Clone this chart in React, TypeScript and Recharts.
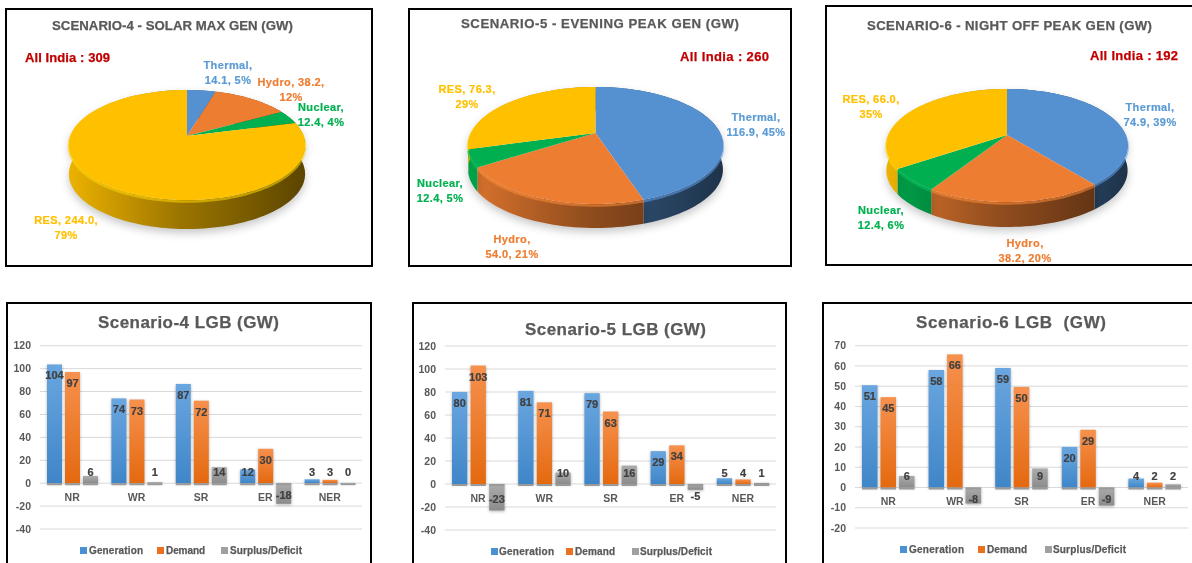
import React from "react";
import {
  Bar,
  BarChart,
  CartesianGrid,
  Legend,
  LabelList,
  Pie,
  PieChart,
  XAxis,
  YAxis,
} from "recharts";

const FONT = '"Liberation Sans", Arial, sans-serif';

const sources = ["Thermal", "Hydro", "Nuclear", "RES"];
const sourceColors = ["#5590D0", "#ED7D31", "#00B050", "#FFC000"];
const labelColors = ["#5B9BD5", "#ED7D31", "#00B050", "#FFC000"];

const scenario4Gen = [14.1, 38.2, 12.4, 244.0];
const scenario4Pct = [5, 12, 4, 79];
const scenario5Gen = [116.9, 54.0, 12.4, 76.3];
const scenario5Pct = [45, 21, 5, 29];
const scenario6Gen = [74.9, 38.2, 12.4, 66.0];
const scenario6Pct = [39, 20, 6, 35];

const regions = ["NR", "WR", "SR", "ER", "NER"];

const s4Generation = [103.6, 74, 86.6, 12, 3.4];
const s4Demand = [97, 73, 72, 30, 2.9];
const s4Surplus = [6.3, 0.9, 14, -18, 0.3];

const s5Generation = [80, 81, 79, 28.6, 5];
const s5Demand = [103, 71, 63, 33.6, 4];
const s5Surplus = [-23, 10, 16, -5, 1];

const s6Generation = [50.5, 58, 59, 20, 4.4];
const s6Demand = [44.6, 65.7, 49.6, 28.5, 2.4];
const s6Surplus = [5.7, -7.9, 9.4, -8.9, 1.6];

const ticks120 = [-40, -20, 0, 20, 40, 60, 80, 100, 120];
const ticks70 = [-20, -10, 0, 10, 20, 30, 40, 50, 60, 70];

// page coordinates
const pieLayouts = [
  {
    id: "s4",
    box: { x: 5, y: 8, w: 368, h: 259 },
    title: "SCENARIO-4 - SOLAR MAX GEN (GW)",
    titleAt: [52, 25, 241],
    total: "All India : 309",
    totalAt: [25, 57, 85],
    cx: 187, cy: 136, rx: 116.5, up: 46, down: 64, depth: 29,
    gen: scenario4Gen, pct: scenario4Pct,
    labels: [[228, 65, 0], [291, 82, 1], [321, 107, 0], [66, 220, 1]],
  },
  {
    id: "s5",
    box: { x: 408, y: 8, w: 384, h: 259 },
    title: "SCENARIO-5 - EVENING PEAK GEN (GW)",
    titleAt: [461, 23, 278],
    total: "All India : 260",
    totalAt: [680, 56, 89],
    cx: 595.5, cy: 133, rx: 124.5, up: 46, down: 71, depth: 24,
    gen: scenario5Gen, pct: scenario5Pct,
    labels: [[756, 117, 0], [512, 239, 0], [440, 183, 0], [467, 89, 1]],
  },
  {
    id: "s6",
    box: { x: 825, y: 5, w: 400, h: 261 },
    title: "SCENARIO-6 - NIGHT OFF PEAK GEN (GW)",
    titleAt: [867, 25, 285],
    total: "All India : 192",
    totalAt: [1090, 55, 88],
    cx: 1007, cy: 135, rx: 118.5, up: 46, down: 67, depth: 25,
    gen: scenario6Gen, pct: scenario6Pct,
    labels: [[1150, 107, 0], [1025, 243, 0], [881, 210, 0], [871, 99, 1]],
  },
];

const barLayouts = [
  {
    id: "b4",
    box: { x: 6, y: 302, w: 366, h: 290 },
    title: "Scenario-4 LGB (GW)",
    titleAt: [98, 322, 181],
    plot: { left: 40, right: 362, top: 345.7, bottom: 529 },
    barSize: 15, barGap: 3,
    domain: [-40, 120], ticks: ticks120,
    generation: s4Generation, demand: s4Demand, surplus: s4Surplus,
    legendY: 550, legendX: [[80, 89, 54], [157, 166, 39], [221, 230, 72]],
  },
  {
    id: "b5",
    box: { x: 412, y: 302, w: 375, h: 290 },
    title: "Scenario-5 LGB (GW)",
    titleAt: [525, 329, 181],
    plot: { left: 445, right: 776, top: 346, bottom: 530 },
    barSize: 15.3, barGap: 3.3,
    domain: [-40, 120], ticks: ticks120,
    generation: s5Generation, demand: s5Demand, surplus: s5Surplus,
    legendY: 551, legendX: [[491, 499, 55], [566, 575, 40], [632, 640, 72]],
  },
  {
    id: "b6",
    box: { x: 822, y: 302, w: 400, h: 290 },
    title: "Scenario-6 LGB  (GW)",
    titleAt: [916, 322, 190],
    plot: { left: 855, right: 1188, top: 345.7, bottom: 528 },
    barSize: 15.5, barGap: 3,
    domain: [-20, 70], ticks: ticks70,
    generation: s6Generation, demand: s6Demand, surplus: s6Surplus,
    legendY: 549, legendX: [[900, 909, 55], [978, 987, 40], [1045, 1053, 73]],
  },
];

const shade = (hex: string, k: number) => {
  const n = parseInt(hex.slice(1), 16);
  const c = [(n >> 16) & 255, (n >> 8) & 255, n & 255].map((v) =>
    Math.min(255, Math.round(v * k))
  );
  return `rgb(${c[0]},${c[1]},${c[2]})`;
};

// Circle to tilted disc, with the far edge squeezed so the apex sits above the ellipse centre
const makeProjector = (cx: number, cy: number, rx: number, up: number, down: number) => {
  const ry = (2 * up * down) / (up + down);
  const p = ry / up - 1;
  return (deg: number): [number, number] => {
    const a = (deg * Math.PI) / 180;
    const w = 1 + p * Math.sin(a);
    return [cx + (rx * Math.cos(a)) / w, cy - (ry * Math.sin(a)) / w];
  };
};

const rimPoints = (props: any, project: (d: number) => [number, number]) => {
  const { startAngle, endAngle } = props;
  const steps = Math.max(2, Math.ceil(Math.abs(endAngle - startAngle) / 2));
  const pts: [number, number][] = [];
  for (let i = 0; i <= steps; i++) {
    pts.push(project(startAngle + ((endAngle - startAngle) * i) / steps));
  }
  return pts;
};

const toPath = (pts: [number, number][]) =>
  pts.map((q, i) => `${i ? "L" : "M"}${q[0].toFixed(2)} ${q[1].toFixed(2)}`).join(" ");

// Text stretched to the width measured in the reference
const FitText = ({ text, x, y, width, size, color }: any) => (
  <svg
    style={{ position: "absolute", left: 0, top: 0, overflow: "visible", pointerEvents: "none" }}
    width={1}
    height={1}
  >
    <text
      x={x}
      y={y + size * 0.36}
      textLength={width}
      lengthAdjust="spacing"
      fontFamily={FONT}
      fontSize={size}
      fontWeight={700}
      fill={color}
      stroke={color}
      strokeWidth={0.25}
      style={{ whiteSpace: "pre" }}
    >
      {text}
    </text>
  </svg>
);

const PieCard = ({ layout }: { layout: (typeof pieLayouts)[number] }) => {
  const { box, cx, cy, rx, up, down, depth } = layout;
  const localCx = cx - box.x;
  const localCy = cy - box.y;
  const project = makeProjector(localCx, localCy, rx, up, down);
  const data = sources.map((name, i) => ({
    name,
    value: layout.gen[i],
    pct: layout.pct[i],
    fill: sourceColors[i],
  }));

  const wallShape = (props: any) => {
    const pts = rimPoints(props, project);
    const lower = pts.map((q) => [q[0], q[1] + depth] as [number, number]).reverse();
    const gid = `wall-${layout.id}-${props.fill.slice(1)}`;
    return (
      <g style={{ filter: "drop-shadow(0 4px 4px rgba(0,0,0,0.22))" }}>
        <defs>
          <linearGradient id={gid} gradientUnits="userSpaceOnUse" x1={localCx - rx} x2={localCx + rx} y1={0} y2={0}>
            <stop offset="0" stopColor={shade(props.fill, 0.92)} />
            <stop offset="0.45" stopColor={shade(props.fill, 0.62)} />
            <stop offset="1" stopColor={shade(props.fill, 0.36)} />
          </linearGradient>
        </defs>
        <path d={toPath([...pts, ...lower]) + " Z"} fill={`url(#${gid})`} />
      </g>
    );
  };

  const topShape = (props: any) => {
    const pts = rimPoints(props, project);
    return (
      <g>
        <path
          d={toPath(pts.map((q) => [q[0], q[1] + 1.5] as [number, number]))}
          fill="none"
          stroke={shade(props.fill, 1.12)}
          strokeOpacity={0.55}
          strokeWidth={2.5}
        />
        <path d={`M${localCx} ${localCy} ` + toPath(pts).replace("M", "L") + " Z"} fill={props.fill} />
      </g>
    );
  };

  const renderLabel = (props: any) => {
    const at = layout.labels[props.index];
    const d = data[props.index];
    const num = d.value.toFixed(1);
    const lines = at[2]
      ? [`${d.name}, ${num},`, `${d.pct}%`]
      : [`${d.name},`, `${num}, ${d.pct}%`];
    return (
      <text
        x={at[0] - box.x}
        y={at[1] - box.y}
        textAnchor="middle"
        fontFamily={FONT}
        fontSize={11}
        fontWeight={700}
        letterSpacing={0.4}
        fill={labelColors[props.index]}
        stroke={labelColors[props.index]}
        strokeWidth={0.2}
      >
        <tspan x={at[0] - box.x} dy={4}>{lines[0]}</tspan>
        <tspan x={at[0] - box.x} dy={15}>{lines[1]}</tspan>
      </text>
    );
  };

  return (
    <div style={{ position: "absolute", left: box.x, top: box.y, width: box.w, height: box.h }}>
      <PieChart width={box.w} height={box.h} margin={{ top: 0, right: 0, bottom: 0, left: 0 }}>
        <Pie
          data={data}
          dataKey="value"
          nameKey="name"
          cx={localCx}
          cy={localCy}
          outerRadius={rx}
          startAngle={90}
          endAngle={-270}
          stroke="none"
          shape={wallShape}
          isAnimationActive={false}
        />
        <Pie
          data={data}
          dataKey="value"
          nameKey="name"
          cx={localCx}
          cy={localCy}
          outerRadius={rx}
          startAngle={90}
          endAngle={-270}
          stroke="none"
          shape={topShape}
          label={renderLabel}
          labelLine={false}
          isAnimationActive={false}
        />
      </PieChart>
      <FitText text={layout.title} x={layout.titleAt[0] - box.x} y={layout.titleAt[1] - box.y} width={layout.titleAt[2]} size={13.2} color="#595959" />
      <FitText text={layout.total} x={layout.totalAt[0] - box.x} y={layout.totalAt[1] - box.y} width={layout.totalAt[2]} size={13} color="#C00000" />
      <div style={{ position: "absolute", inset: 0, border: "2px solid #000", boxSizing: "border-box" }} />
    </div>
  );
};

const BarShape = (props: any) => {
  const { x, y, width, height, value, gradient } = props;
  const top = Math.min(y, y + height);
  const bottom = Math.max(y, y + height);
  const zero = value >= 0 ? bottom : top;
  return (
    <g>
      <rect
        x={x}
        y={top}
        width={width}
        height={bottom - top}
        fill={gradient}
        style={{ filter: "drop-shadow(0 1px 1.5px rgba(0,0,0,0.3))" }}
      />
      <rect x={x} y={zero} width={width} height={2} fill="#9A9A9A" />
    </g>
  );
};

const BarValueLabel = (props: any) => {
  const { x, y, width, height, value } = props;
  const top = Math.min(y, y + height);
  const bottom = Math.max(y, y + height);
  const h = bottom - top;
  const labelY = value >= 0 ? Math.min(top + 11, bottom - 11) : top + Math.max(12, h / 2 + 2);
  return (
    <text
      x={x + width / 2}
      y={labelY + 4}
      textAnchor="middle"
      fontFamily={FONT}
      fontSize={11}
      fontWeight={700}
      fill="#404040"
      stroke="#404040"
      strokeWidth={0.2}
    >
      {Math.round(value)}
    </text>
  );
};

const BarCard = ({ layout }: { layout: (typeof barLayouts)[number] }) => {
  const { box, plot } = layout;
  const data = regions.map((region, i) => ({
    region,
    generation: layout.generation[i],
    demand: layout.demand[i],
    surplus: layout.surplus[i],
  }));
  const axisWidth = 30;
  const chartH = plot.bottom - box.y + 30;
  const gid = layout.id;
  const zeroToBottom =
    ((plot.bottom - plot.top) * (0 - layout.domain[0])) / (layout.domain[1] - layout.domain[0]);

  const categoryTick = (p: any) => (
    <text
      x={p.x}
      y={p.y - zeroToBottom + 10}
      textAnchor="middle"
      fontFamily={FONT}
      fontSize={10.5}
      fontWeight={700}
      fill="#595959"
    >
      {p.payload.value}
    </text>
  );

  const legendContent = ({ payload }: any) => (
    <div style={{ position: "absolute", left: 0, top: 0, height: 0 }}>
      {(payload || []).map((item: any, i: number) => {
        const pos = layout.legendX[i];
        return (
          <React.Fragment key={item.value}>
            <div
              style={{
                position: "absolute",
                left: pos[0] - box.x,
                top: layout.legendY - box.y - 3,
                width: 6.5,
                height: 6.5,
                background: item.color,
              }}
            />
            <FitText
              text={item.value}
              x={pos[1] - box.x}
              y={layout.legendY - box.y}
              width={pos[2]}
              size={10}
              color="#595959"
            />
          </React.Fragment>
        );
      })}
    </div>
  );

  const series = [
    { key: "generation", name: "Generation", color: "#4A90D2", g: "blue" },
    { key: "demand", name: "Demand", color: "#ED7020", g: "orange" },
    { key: "surplus", name: "Surplus/Deficit", color: "#A0A0A0", g: "gray" },
  ];

  return (
    <div style={{ position: "absolute", left: box.x, top: box.y, width: box.w, height: box.h }}>
      <BarChart
        width={box.w}
        height={chartH}
        data={data}
        barSize={layout.barSize}
        barGap={layout.barGap}
        margin={{
          top: plot.top - box.y,
          right: box.w - (plot.right - box.x),
          bottom: 0,
          left: plot.left - box.x - axisWidth,
        }}
      >
        <defs>
          <linearGradient id={`${gid}-blue`} x1="0" y1="0" x2="0" y2="1">
            <stop offset="0" stopColor="#6AA6E0" />
            <stop offset="1" stopColor="#3F86C8" />
          </linearGradient>
          <linearGradient id={`${gid}-orange`} x1="0" y1="0" x2="0" y2="1">
            <stop offset="0" stopColor="#F6914E" />
            <stop offset="1" stopColor="#E4690F" />
          </linearGradient>
          <linearGradient id={`${gid}-gray`} x1="0" y1="0" x2="0" y2="1">
            <stop offset="0" stopColor="#ABABAB" />
            <stop offset="1" stopColor="#8C8C8C" />
          </linearGradient>
        </defs>
        <CartesianGrid vertical={false} stroke="#D9D9D9" strokeWidth={1} />
        <XAxis
          dataKey="region"
          axisLine={false}
          tickLine={false}
          height={30}
          interval={0}
          tick={categoryTick}
        />
        <YAxis
          width={axisWidth}
          domain={layout.domain}
          ticks={layout.ticks}
          interval={0}
          axisLine={false}
          tickLine={false}
          tickMargin={3}
          tick={{ fontFamily: FONT, fontSize: 10.5, fontWeight: 700, fill: "#595959" }}
        />
        <Legend content={legendContent} wrapperStyle={{ left: 0, top: 0, width: 0, height: 0 }} itemSorter={null} />
        {series.map((s) => (
          <Bar
            key={s.key}
            dataKey={s.key}
            name={s.name}
            fill={s.color}
            isAnimationActive={false}
            shape={(p: any) => <BarShape {...p} gradient={`url(#${gid}-${s.g})`} />}
          >
            <LabelList dataKey={s.key} content={BarValueLabel} />
          </Bar>
        ))}
      </BarChart>
      <FitText text={layout.title} x={layout.titleAt[0] - box.x} y={layout.titleAt[1] - box.y} width={layout.titleAt[2]} size={17} color="#595959" />
      <div style={{ position: "absolute", inset: 0, border: "2px solid #000", boxSizing: "border-box" }} />
    </div>
  );
};

export default function App() {
  return (
    <div
      style={{
        position: "absolute",
        left: 0,
        top: 0,
        width: 1192,
        height: 563,
        overflow: "hidden",
        background: "#fff",
        filter: "blur(0.4px)",
      }}
    >
      {pieLayouts.map((l) => (
        <PieCard key={l.id} layout={l} />
      ))}
      {barLayouts.map((l) => (
        <BarCard key={l.id} layout={l} />
      ))}
    </div>
  );
}
